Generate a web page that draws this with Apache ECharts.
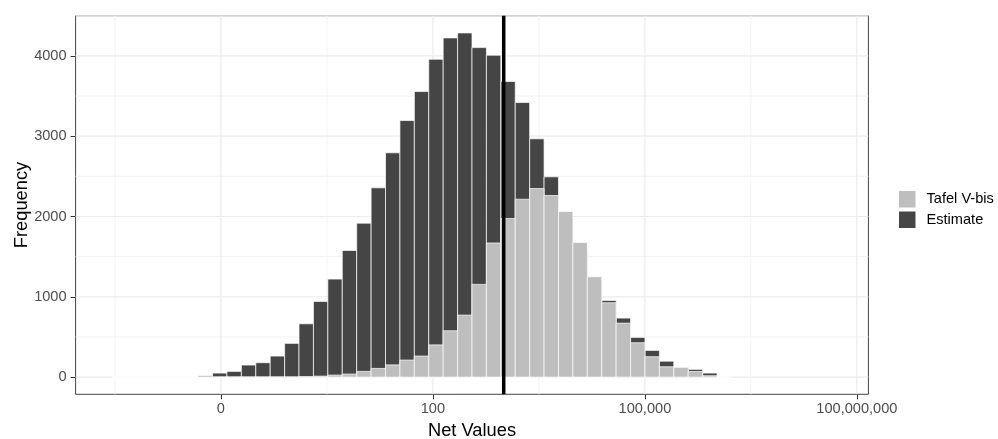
<!DOCTYPE html>
<html>
<head>
<meta charset="utf-8">
<script src="https://cdn.jsdelivr.net/npm/echarts@6/dist/echarts.min.js"></script>
<style>
  html, body { margin: 0; padding: 0; background: #ffffff; }
  #chart { width: 998px; height: 439px; }
</style>
</head>
<body>
<div id="chart"></div>
<script>
// Axis ticks (transformed scale) and their printed labels
const tickPositions = [0, 1, 2, 3];
const tickLabels = ['0', '100', '100,000', '100,000,000'];
const minorXPositions = [-0.5, 0.5, 1.5, 2.5];
const yTicks = [0, 1000, 2000, 3000, 4000];
const yMinorTicks = [500, 1500, 2500, 3500, 4500];

// Histogram bins: 50 equal-width bins on the transformed scale
const firstBinEdge = -0.5156;
const binWidth = 0.068;

// Counts per bin (null = no bar drawn)
const estimateCounts = [
  0, 0, 0, 0, 0, 0,
  15, 50, 71, 150, 179, 262, 420, 664, 942, 1220,
  1577, 1917, 2357, 2793, 3195, 3556, 3958, 4224, 4286, 4103,
  4008, 3682, 3419, 2967, 2494, 1960, 1550, 1215, 955, 735,
  494, 332, 198, 118, 96, 50, 0,
  null, null, null, null, null, null, null
];
const tafelCounts = [
  0, 0, 0, 0, 0, 0,
  0, 0, 0, 0, 0, 0, 0, 5, 12, 25,
  38, 71, 108, 152, 212, 262, 401, 577, 772, 1154,
  1670, 1975, 2215, 2348, 2261, 2062, 1676, 1249, 926, 672,
  428, 254, 129, 121, 70, 17, 0,
  null, null, null, null, null, null, null
];

// Reference cut-off drawn as a vertical line
const cutoff = 1.334;

const seriesNames = ['Tafel V-bis', 'Estimate'];
const FONT = '"Liberation Sans", Arial, Helvetica, sans-serif';

// Scale limits with 5% padding on each side
const binCount = estimateCounts.length;
const dataLo = firstBinEdge;
const dataHi = firstBinEdge + binCount * binWidth;
const xPad = (dataHi - dataLo) * 0.05;
const xMin = dataLo - xPad;
const xMax = dataHi + xPad;
const yPeak = Math.max(...estimateCounts.filter(v => v != null), ...tafelCounts.filter(v => v != null));
const yMin = -0.05 * yPeak;
const yMax = 1.05 * yPeak;

function toBars(counts) {
  const out = [];
  counts.forEach((c, k) => {
    if (c == null) return;
    const left = firstBinEdge + k * binWidth;
    out.push([left, left + binWidth, c]);
  });
  return out;
}

function histRenderer(fill) {
  return function (params, api) {
    const lo = api.coord([api.value(0), 0]);
    const hi = api.coord([api.value(1), api.value(2)]);
    return {
      type: 'rect',
      shape: { x: lo[0], y: hi[1], width: hi[0] - lo[0], height: lo[1] - hi[1] },
      style: { fill: fill, stroke: '#ffffff', lineWidth: 0.7 }
    };
  };
}

// Panel grid lines
const gridLines = []
  .concat(minorXPositions.map(v => ({ dir: 'v', v: v, major: false })))
  .concat(yMinorTicks.map(v => ({ dir: 'h', v: v, major: false })))
  .concat(tickPositions.map(v => ({ dir: 'v', v: v, major: true })))
  .concat(yTicks.map(v => ({ dir: 'h', v: v, major: true })));

function gridRenderer(params, api) {
  const g = gridLines[params.dataIndex];
  const cs = params.coordSys;
  let shape;
  if (g.dir === 'v') {
    const x = api.coord([g.v, yMin])[0];
    shape = { x1: x, y1: cs.y, x2: x, y2: cs.y + cs.height };
  } else {
    const y = api.coord([xMin, g.v])[1];
    shape = { x1: cs.x, y1: y, x2: cs.x + cs.width, y2: y };
  }
  return {
    type: 'line',
    shape: shape,
    style: { stroke: g.major ? '#EBEBEB' : '#F3F3F3', lineWidth: g.major ? 1.2 : 1 }
  };
}

function cutoffRenderer(params, api) {
  const cs = params.coordSys;
  const x = api.coord([api.value(0), 0])[0];
  return {
    type: 'line',
    shape: { x1: x, y1: cs.y, x2: x, y2: cs.y + cs.height },
    style: { stroke: '#000000', lineWidth: 3.5 }
  };
}

const chart = echarts.init(document.getElementById('chart'), null, { renderer: 'canvas' });

chart.setOption({
  animation: false,
  backgroundColor: '#ffffff',
  textStyle: { fontFamily: FONT },
  grid: {
    left: 75.6, right: 129.6, top: 15.7, bottom: 44.7,
    show: true, borderColor: '#444444', borderWidth: 1,
    backgroundColor: 'transparent',
    containLabel: false, outerBoundsMode: 'none'
  },
  legend: {
    data: seriesNames,
    orient: 'vertical',
    left: 899, top: 191,
    padding: 0,
    itemWidth: 16.5, itemHeight: 16.5, itemGap: 4,
    icon: 'rect',
    itemStyle: { borderWidth: 0 },
    textStyle: { fontFamily: FONT, fontSize: 14.6, color: '#000000', padding: [0, 0, 0, 6] },
    selectedMode: false
  },
  xAxis: {
    type: 'value',
    min: xMin, max: xMax,
    axisLine: { show: false, onZero: false },
    splitLine: { show: false },
    axisTick: { show: true, customValues: tickPositions, length: 5, lineStyle: { color: '#333333', width: 1 } },
    axisLabel: {
      customValues: tickPositions,
      formatter: v => tickLabels[tickPositions.indexOf(v)],
      color: '#4D4D4D', fontSize: 14.6, margin: 7, fontFamily: FONT
    },
    name: 'Net Values',
    nameLocation: 'middle',
    nameGap: 28,
    nameMoveOverlap: false,
    nameTextStyle: { color: '#000000', fontSize: 18.3, fontFamily: FONT }
  },
  yAxis: {
    type: 'value',
    min: yMin, max: yMax,
    axisLine: { show: false, onZero: false },
    splitLine: { show: false },
    axisTick: { show: true, customValues: yTicks, length: 5, lineStyle: { color: '#333333', width: 1 } },
    axisLabel: {
      customValues: yTicks,
      formatter: v => String(v),
      color: '#4D4D4D', fontSize: 14.6, margin: 9, fontFamily: FONT
    },
    name: 'Frequency',
    nameLocation: 'middle',
    nameGap: 45,
    nameMoveOverlap: false,
    nameTextStyle: { color: '#000000', fontSize: 18.3, fontFamily: FONT }
  },
  series: [
    {
      type: 'custom',
      silent: true,
      z: 1,
      renderItem: gridRenderer,
      data: gridLines.map((g, k) => [k])
    },
    {
      name: 'Estimate',
      type: 'custom',
      z: 2,
      itemStyle: { color: '#454545' },
      renderItem: histRenderer('#454545'),
      data: toBars(estimateCounts)
    },
    {
      name: 'Tafel V-bis',
      type: 'custom',
      z: 3,
      itemStyle: { color: '#BEBEBE' },
      renderItem: histRenderer('#BEBEBE'),
      data: toBars(tafelCounts)
    },
    {
      type: 'custom',
      silent: true,
      z: 4,
      renderItem: cutoffRenderer,
      data: [[cutoff]]
    }
  ]
});
</script>
</body>
</html>
